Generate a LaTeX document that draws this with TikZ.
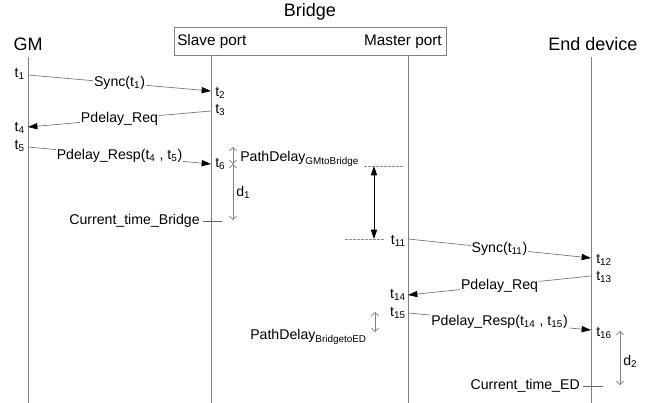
\documentclass[tikz,border=0pt]{standalone}
\usepackage{fontspec}
\setmainfont{Liberation Sans}
\usetikzlibrary{arrows.meta}
\begin{document}
\begin{tikzpicture}[x=0.75pt,y=-0.75pt,
  lifeline/.style={draw=black!50, line width=0.6pt},
  msg/.style={draw=black!55, line width=0.5pt,
    -{Triangle[length=7pt,width=4.6pt,color=black]}},
  msglabel/.style={fill=white, inner sep=0.8pt, text=black,
    font=\fontsize{10.6pt}{12pt}\selectfont},
  tlabel/.style={inner sep=0pt, font=\fontsize{10.6pt}{12pt}\selectfont},
  portlabel/.style={inner sep=0pt, font=\fontsize{11.5pt}{13pt}\selectfont},
  title/.style={inner sep=0pt, font=\fontsize{13.5pt}{16pt}\selectfont},
  span/.style={draw=black!50, line width=0.5pt,
    {Straight Barb[length=2.6pt,width=5.5pt]}-{Straight Barb[length=2.6pt,width=5.5pt]}},
  bigspan/.style={draw=black, line width=0.6pt,
    {Triangle[length=7pt,width=4.6pt]}-{Triangle[length=7pt,width=4.6pt]}},
  guide/.style={draw=black!45, line width=0.5pt, dash pattern=on 2pt off 1pt},
  tick/.style={draw=black!60, line width=0.5pt}
]
\useasboundingbox (0,0) rectangle (662,403);

% Bridge box with its two ports
\node[title] (bridge) at (310,12) {Bridge};
\node[draw=black!50, line width=0.6pt, minimum width=272*0.75pt,
      minimum height=28*0.75pt, inner sep=0pt] (box) at (310,41) {};
\node[portlabel, anchor=west] (slave) at (177,42) {Slave port};
\node[portlabel, anchor=east] (master) at (442,42) {Master port};
\node[title] (gm) at (28,44) {GM};
\node[title] (ed) at (593,44) {End device};

% Lifelines
\coordinate (gmT) at (28,57);   \coordinate (gmB) at (28,403);
\coordinate (slT) at (211,55);  \coordinate (slB) at (211,403);
\coordinate (maT) at (408,55);  \coordinate (maB) at (408,403);
\coordinate (edT) at (591,57);  \coordinate (edB) at (591,403);
\draw[lifeline] (gmT) -- (gmB);
\draw[lifeline] (slT) -- (slB);
\draw[lifeline] (maT) -- (maB);
\draw[lifeline] (edT) -- (edB);

% GM <-> slave port exchange
\coordinate (g1) at (28,75);   \coordinate (s2) at (211,91);
\coordinate (s3) at (211,111); \coordinate (g4) at (28,127);
\coordinate (g5) at (28,147);  \coordinate (s6) at (211,164);
\draw[msg] (g1) -- node[msglabel] {Sync(t\textsubscript{1})} (s2);
\draw[msg] (s3) -- node[msglabel] {Pdelay\_Req} (g4);
\draw[msg] (g5) -- node[msglabel] {Pdelay\_Resp(t\textsubscript{4} , t\textsubscript{5})} (s6);

\node[tlabel, anchor=east] (t1) at (25,74) {t\textsubscript{1}};
\node[tlabel, anchor=west] (t2) at (215,93) {t\textsubscript{2}};
\node[tlabel, anchor=west] (t3) at (215,110) {t\textsubscript{3}};
\node[tlabel, anchor=east] (t4) at (25,128) {t\textsubscript{4}};
\node[tlabel, anchor=east] (t5) at (25,146) {t\textsubscript{5}};
\node[tlabel, anchor=west] (t6) at (215,164) {t\textsubscript{6}};

% Path delay and residence time in the bridge
\coordinate (pa) at (233,147); \coordinate (pb) at (233,164); \coordinate (pc) at (233,220);
\draw[span] (pa) -- (pb);
\draw[span] (pb) -- (pc);
\node[tlabel, anchor=west] (pdgm) at (240,159) {PathDelay\textsubscript{GMtoBridge}};
\node[tlabel, anchor=west] (d1) at (236,192) {d\textsubscript{1}};
\node[tlabel, anchor=east] (ctb) at (200,221) {Current\_time\_Bridge};
\coordinate (ctbR) at (222,221);
\draw[tick] (ctb.east) ++(3,0) -- (ctbR);

\coordinate (hA) at (364,166); \coordinate (hB) at (404,166);
\coordinate (lA) at (345,239); \coordinate (lB) at (385,239);
\draw[guide] (hA) -- (hB);
\draw[guide] (lA) -- (lB);
\coordinate (vA) at (374,166); \coordinate (vB) at (374,239);
\draw[bigspan] (vA) -- (vB);

% Master port <-> end device exchange
\coordinate (m11) at (408,239); \coordinate (e12) at (591,258);
\coordinate (e13) at (591,276); \coordinate (m14) at (408,295);
\coordinate (m15) at (408,313); \coordinate (e16) at (591,330);
\draw[msg] (m11) -- node[msglabel] {Sync(t\textsubscript{11})} (e12);
\draw[msg] (e13) -- node[msglabel] {Pdelay\_Req} (m14);
\draw[msg] (m15) -- node[msglabel] {Pdelay\_Resp(t\textsubscript{14} , t\textsubscript{15})} (e16);

\node[tlabel, anchor=east] (t11) at (406,241) {t\textsubscript{11}};
\node[tlabel, anchor=west] (t12) at (596,260) {t\textsubscript{12}};
\node[tlabel, anchor=west] (t13) at (596,277) {t\textsubscript{13}};
\node[tlabel, anchor=east] (t14) at (406,295) {t\textsubscript{14}};
\node[tlabel, anchor=east] (t15) at (406,313) {t\textsubscript{15}};
\node[tlabel, anchor=west] (t16) at (596,333) {t\textsubscript{16}};

% Path delay towards the end device and its residence time
\coordinate (qa) at (375,312); \coordinate (qb) at (375,332);
\draw[span] (qa) -- (qb);
\node[tlabel, anchor=west] (pded) at (250,337) {PathDelay\textsubscript{BridgetoED}};
\coordinate (ra) at (620,331); \coordinate (rb) at (620,385);
\draw[span] (ra) -- (rb);
\node[tlabel, anchor=west] (d2) at (623,361) {d\textsubscript{2}};
\node[tlabel, anchor=east] (cte) at (580,386) {Current\_time\_ED};
\coordinate (cteR) at (603,386);
\draw[tick] (cte.east) ++(3,0) -- (cteR);
\end{tikzpicture}
\end{document}
